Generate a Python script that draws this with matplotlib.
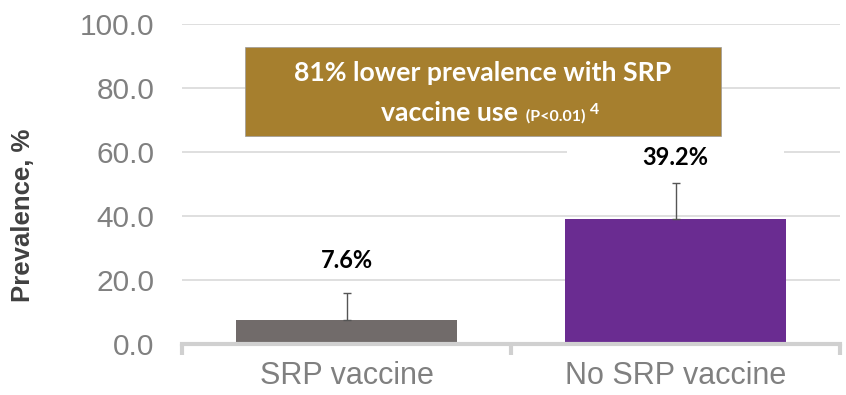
import matplotlib
matplotlib.use("Agg")
import matplotlib.pyplot as plt
from matplotlib.patches import Rectangle

categories = ["SRP vaccine", "No SRP vaccine"]
values = [7.6, 39.2]
err_upper = [8.3, 11.2]
labels = ["7.6%", "39.2%"]
bar_colors = ["#716B6A", "#6A2C91"]
yticks = [0, 20, 40, 60, 80, 100]

fig = plt.figure(figsize=(8.46, 3.95), dpi=100)
ax = fig.add_axes([182/846, 1-344/395, (840-182)/846, (344-24)/395])

x = list(range(len(categories)))
ax.bar(x, values, width=0.67, color=bar_colors, zorder=2)
ax.errorbar(x, values, yerr=[[0]*len(values), err_upper], fmt="none",
            ecolor="#555555", elinewidth=1.0, capsize=3, capthick=1.0, zorder=3)

ax.set_xlim(-0.5, 1.5)
ax.set_ylim(0, 100)
ax.set_yticks(yticks)
ax.set_yticklabels([f"{v:.1f}" for v in yticks])
ax.yaxis.grid(True, color="#D9D9D9", linewidth=1.2, zorder=0)
ax.set_axisbelow(True)

for s in ["top", "right", "left"]:
    ax.spines[s].set_visible(False)
ax.spines["bottom"].set_color("#D0D0D0")
ax.spines["bottom"].set_linewidth(3)
ax.spines["bottom"].set_zorder(4)

ax.set_xticks([-0.5, 0.5, 1.5])
ax.set_xticklabels([])
ax.set_xticks(x, minor=True)
ax.set_xticklabels(categories, minor=True)
ax.tick_params(axis="x", which="major", length=8, width=3, color="#D0D0D0")
ax.tick_params(axis="x", which="minor", length=0, pad=12, labelsize=22,
               labelcolor="#808080")
ax.tick_params(axis="y", length=0, pad=20, labelsize=21.5, labelcolor="#808080")
for t in ax.get_xticklabels(minor=True) + ax.get_yticklabels():
    t.set_fontfamily("Liberation Sans")

ax.set_ylabel("Prevalence, %", fontsize=18.5, fontweight="bold", color="#404040",
              family="Liberation Sans")
ax.yaxis.set_label_coords((35-182)/658, (344-215)/320)

# data labels
label_offsets = [18.5, 19]
for xi, v, lab, off in zip(x, values, labels, label_offsets):
    if xi == 1:
        ax.add_patch(Rectangle((xi - 0.33, v + off - 5), 0.66, 10,
                               facecolor="white", edgecolor="none", zorder=1))
    ax.text(xi, v + off, lab, ha="center", va="center", fontsize=17,
            fontweight="bold", family="Lato", color="black", zorder=5)

# annotation box
def px_x(p):
    return -0.5 + (p - 182) / 329

def px_y(p):
    return (344 - p) / 3.2

ax.add_patch(Rectangle((px_x(245), px_y(136)), (721-245)/329, (136-47)/3.2,
                       facecolor="#A67F2E", edgecolor="#9A9A9A", linewidth=0.5,
                       zorder=6))
cx = px_x((245+721)/2)
ax.text(cx, px_y(73), "81% lower prevalence with SRP", ha="center", va="center",
        fontsize=19.2, fontweight="bold", family="Lato", color="white", zorder=7)
t1 = ax.text(px_x(381), px_y(113), "vaccine use", ha="left", va="center",
             fontsize=19.2, fontweight="bold", family="Lato", color="white", zorder=7)
t2 = ax.annotate("  (P<0.01)", xy=(1, 0.08), xycoords=t1, ha="left", va="bottom",
                 fontsize=11.5, fontweight="bold", family="Lato", color="white",
                 zorder=7)
ax.annotate(" 4", xy=(1, 0.45), xycoords=t2, ha="left", va="bottom",
            fontsize=11.5, fontweight="bold", family="Lato", color="white", zorder=7)

fig.savefig("out.png", dpi=100)
